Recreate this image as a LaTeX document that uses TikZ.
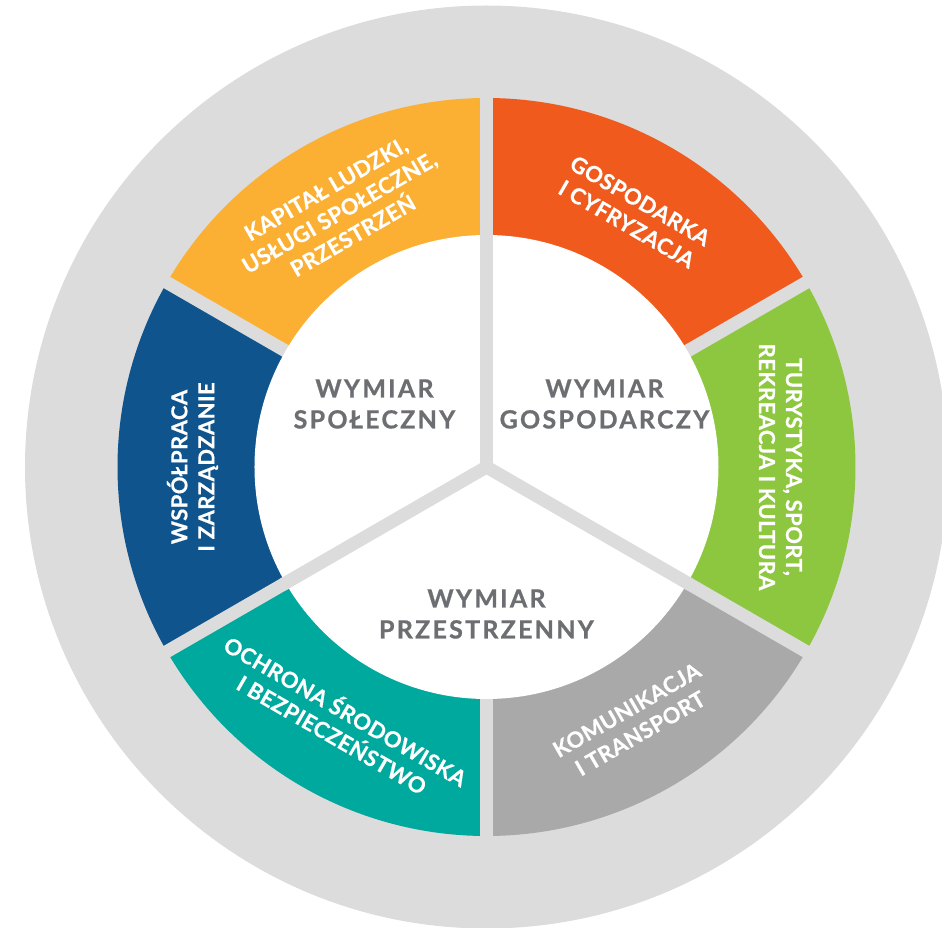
\documentclass[tikz,border=0pt]{standalone}
\usepackage{fontspec}
\setmainfont{Lato}
\usepackage{tikz}

\definecolor{ringbg}{HTML}{DCDCDC}
\definecolor{capital}{HTML}{FBB034}
\definecolor{economy}{HTML}{F15A1D}
\definecolor{tourism}{HTML}{8DC63F}
\definecolor{transport}{HTML}{A9A9A9}
\definecolor{nature}{HTML}{00A99D}
\definecolor{cooperation}{HTML}{0F548C}
\definecolor{dimtext}{HTML}{6D6E71}

\tikzset{
  sectorlabel/.style={align=center, text=white, inner sep=0pt,
    font={\fontsize{22}{27}\selectfont\bfseries\addfontfeatures{LetterSpace=2,FakeBold=0.6}}},
  dimlabel/.style={align=center, text=dimtext, inner sep=0pt,
    font={\fontsize{25}{31}\selectfont\bfseries\addfontfeatures{LetterSpace=9,FakeBold=0.8}}},
}

\begin{document}
\begin{tikzpicture}[x=1pt, y=1pt]
  %----- basic parameters -----
  \def\rin{232}   % inner (white) radius
  \def\rout{369}  % outer radius of the coloured ring
  \def\rtext{294} % radius of the sector labels
  \useasboundingbox (-486.5,-460) rectangle (455.5,467);

  % outer grey disc
  \fill[ringbg] (0,0) circle[radius=461.5];

  %----- coloured sectors (start angle, end angle, colour) -----
  \def\sector#1#2#3{%
    \fill[#3] (0,0) -- (#1:\rout) arc[start angle=#1, end angle=#2, radius=\rout] -- cycle;
  }
  \sector{90}{150}{capital}
  \sector{30}{90}{economy}
  \sector{-30}{30}{tourism}
  \sector{-90}{-30}{transport}
  \sector{210}{270}{nature}
  \sector{150}{210}{cooperation}

  %----- gaps between the sectors -----
  \def\gap#1#2{\draw[ringbg, line width=13] (0,0) -- (#1:#2);}
  \foreach \a in {30,90,150,210,270,330} {\gap{\a}{\rout+4}}

  % white core, split in three
  \fill[white] (0,0) circle[radius=\rin];
  \foreach \a in {90,210,330} {\gap{\a}{\rin+4}}

  %----- sector labels -----
  \node[sectorlabel, rotate=30]  (capitalL)  at (120:\rtext) {KAPITAŁ LUDZKI,\\USŁUGI SPOŁECZNE,\\PRZESTRZEŃ};
  \node[sectorlabel, rotate=-30] (economyL)  at (60:\rtext)  {GOSPODARKA\\I CYFRYZACJA};
  \node[sectorlabel, rotate=-90] (tourismL)  at (0:\rtext)   {TURYSTYKA, SPORT,\\REKREACJA I KULTURA};
  \node[sectorlabel, rotate=30]  (transportL) at (300:\rtext) {KOMUNIKACJA\\I TRANSPORT};
  \node[sectorlabel, rotate=-30] (natureL)   at (240:\rtext) {OCHRONA ŚRODOWISKA\\I BEZPIECZEŃSTWO};
  \node[sectorlabel, rotate=90]  (coopL)     at (180:\rtext) {WSPÓŁPRACA\\I ZARZĄDZANIE};

  %----- the three dimensions -----
  \node[dimlabel] (social)  at (-112,63)  {WYMIAR\\SPOŁECZNY};
  \node[dimlabel] (economic) at (118,63)  {WYMIAR\\GOSPODARCZY};
  \node[dimlabel] (spatial) at (0,-147)   {WYMIAR\\PRZESTRZENNY};
\end{tikzpicture}
\end{document}
